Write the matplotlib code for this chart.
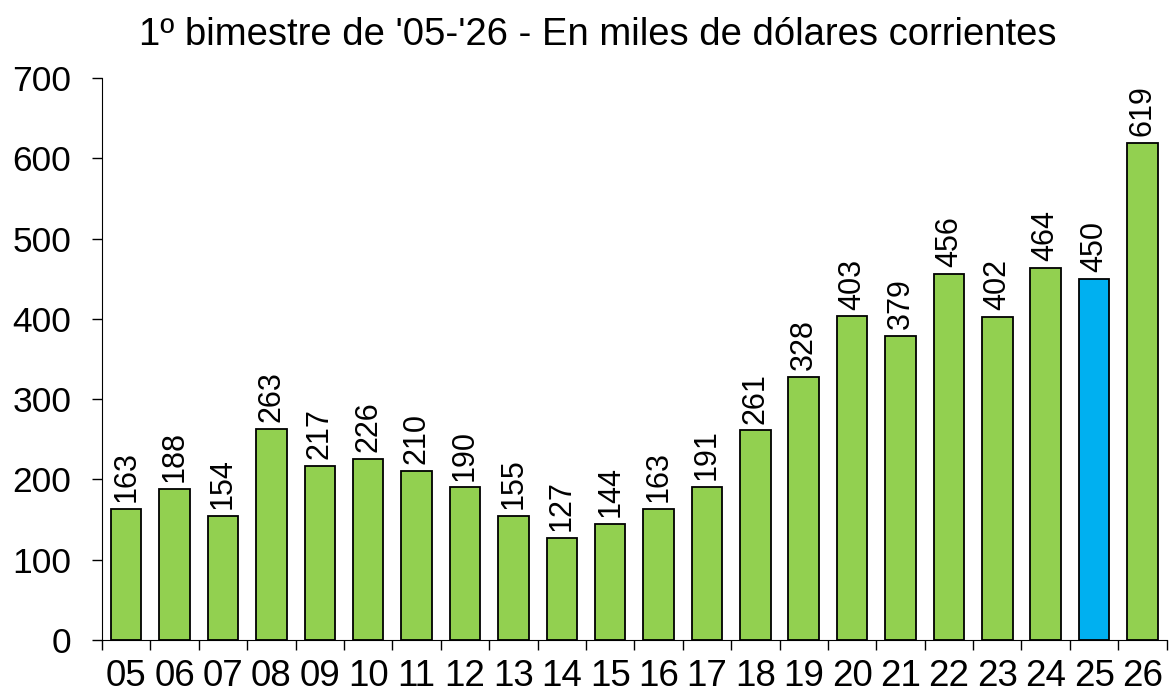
import matplotlib
matplotlib.use("Agg")
import matplotlib.pyplot as plt
import numpy as np

plt.rcParams["font.family"] = ["Liberation Sans", "DejaVu Sans"]

years = ["05", "06", "07", "08", "09", "10", "11", "12", "13", "14", "15",
         "16", "17", "18", "19", "20", "21", "22", "23", "24", "25", "26"]
values = [163, 188, 154, 263, 217, 226, 210, 190, 155, 127, 144,
          163, 191, 261, 328, 403, 379, 456, 402, 464, 450, 619]
highlight = "25"

GREEN = "#92D050"
BLUE = "#00B0F0"

fig = plt.figure(figsize=(11.69, 6.97), dpi=100)
ax = fig.add_axes([0.0873, 0.0818, 0.9107, 0.8062])

x = np.arange(len(years))
colors = [BLUE if y == highlight else GREEN for y in years]
ax.bar(x, values, width=0.63, color=colors, edgecolor="black", linewidth=1.3)

for xi, v in zip(x, values):
    ax.annotate(str(v), (xi, v), xytext=(0, 5), textcoords="offset points",
                rotation=90, ha="center", va="bottom", fontsize=22)

ax.set_xlim(-0.5, len(years) - 0.5)
ax.set_ylim(0, 700)
ax.set_yticks(range(0, 701, 100))
ax.tick_params(axis="y", labelsize=25.5, length=7, width=1, direction="out", pad=15)

# category labels centred, tick marks between categories
ax.set_xticks(x)
ax.set_xticklabels(years)
ax.tick_params(axis="x", which="major", length=0, labelsize=26.5, pad=14)
ax.set_xticks(np.arange(len(years) + 1) - 0.5, minor=True)
ax.tick_params(axis="x", which="minor", length=7, width=1, direction="out")

for side in ("top", "right"):
    ax.spines[side].set_visible(False)

fig.suptitle("1º bimestre de '05-'26 - En miles de dólares corrientes",
             fontsize=27.5, x=0.511, y=0.975)

fig.savefig("out.png", dpi=100)
